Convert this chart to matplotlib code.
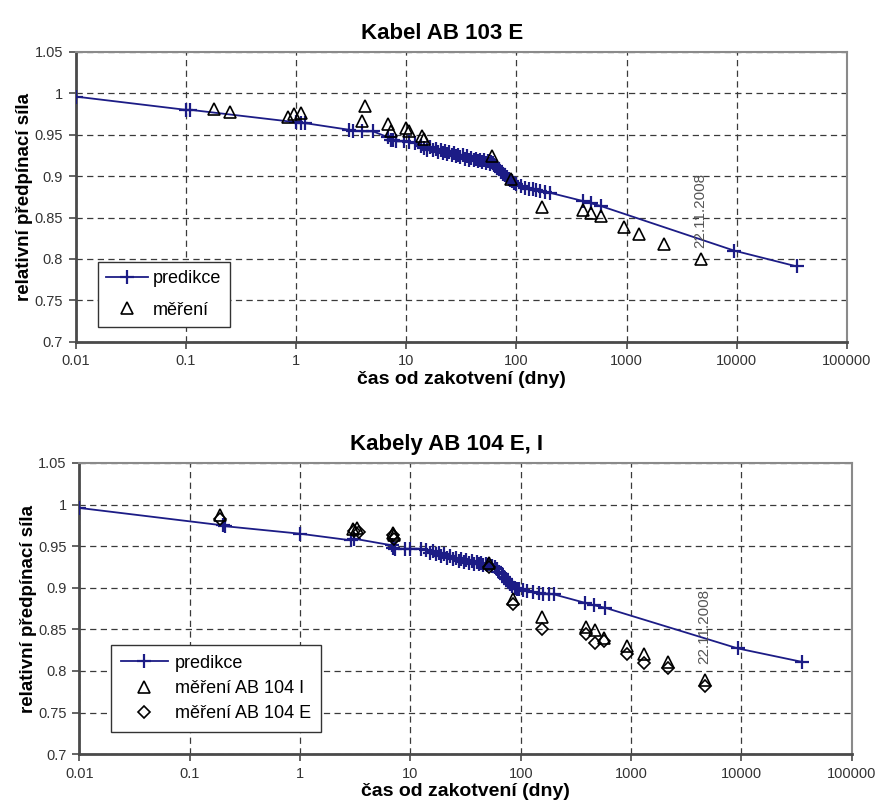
import matplotlib
matplotlib.use('Agg')
import matplotlib.pyplot as plt
from matplotlib.ticker import FixedLocator, FuncFormatter, NullLocator

plt.rcParams['font.family'] = ['Liberation Sans', 'DejaVu Sans']

# Kabel AB 103 E
pred_103_t = [0.01, 0.1, 0.11, 1.0, 1.1, 1.2, 3.0, 3.3, 4.0, 5.0, 6.8, 7.2, 7.6, 8.0,
              9.5, 10.5, 12, 13.5, 14.5, 15.5, 16.5, 17.5, 18.5, 19.5, 20.5, 21.5,
              22.5, 23.5, 24.5, 26, 27, 28, 29.5, 31, 32.5, 34, 35.5, 37, 39, 41, 43,
              45, 47, 49, 51, 53, 55, 57, 59, 61, 63, 65, 67, 70, 73, 76, 79, 82, 85,
              88, 91, 95, 100, 110, 120, 130, 140, 150, 165, 180, 200, 400, 480, 580,
              9500, 35000]
pred_103_f = [0.996, 0.980, 0.980, 0.965, 0.964, 0.964, 0.956, 0.955, 0.954, 0.954,
              0.947, 0.944, 0.943, 0.942, 0.942, 0.941, 0.940, 0.936, 0.934, 0.932,
              0.935, 0.931, 0.933, 0.929, 0.932, 0.928, 0.930, 0.927, 0.929, 0.925,
              0.928, 0.924, 0.926, 0.923, 0.925, 0.921, 0.924, 0.920, 0.922, 0.919,
              0.921, 0.918, 0.920, 0.917, 0.919, 0.916, 0.918, 0.915, 0.917, 0.916,
              0.914, 0.912, 0.910, 0.908, 0.905, 0.903, 0.901, 0.899, 0.897, 0.895,
              0.894, 0.892, 0.890, 0.888, 0.886, 0.885, 0.884, 0.883, 0.882, 0.881,
              0.880, 0.870, 0.867, 0.864, 0.810, 0.791]
meas_103_t = [0.18, 0.25, 0.85, 0.95, 1.1, 4.0, 4.2, 6.8, 7.3, 10, 10.5, 14, 14.5,
              60, 90, 170, 400, 480, 580, 950, 1300, 2200, 4700]
meas_103_f = [0.981, 0.977, 0.971, 0.975, 0.976, 0.966, 0.985, 0.963, 0.955, 0.958,
              0.955, 0.948, 0.945, 0.924, 0.897, 0.863, 0.859, 0.855, 0.852, 0.839,
              0.830, 0.818, 0.800]

# Kabely AB 104 E, I
pred_104_t = [0.01, 0.2, 0.21, 1.0, 2.9, 3.1, 6.8, 7.0, 7.2, 9.0, 10.0, 12.5, 14, 15,
              16, 17, 18, 19, 20, 21.5, 23, 24.5, 26, 27.5, 29, 30.5, 32, 34, 36, 38,
              40, 42, 44, 46, 48, 50, 52, 55, 58, 61, 64, 67, 70, 73, 76, 80, 84, 88,
              92, 96, 105, 115, 130, 145, 160, 180, 200, 380, 460, 580, 9300, 35000]
pred_104_f = [0.996, 0.975, 0.974, 0.965, 0.957, 0.959, 0.951, 0.948, 0.947, 0.947,
              0.947, 0.947, 0.945, 0.942, 0.944, 0.940, 0.942, 0.938, 0.940, 0.936,
              0.938, 0.934, 0.936, 0.932, 0.934, 0.931, 0.933, 0.930, 0.932, 0.929,
              0.931, 0.928, 0.930, 0.927, 0.929, 0.927, 0.928, 0.926, 0.925, 0.922,
              0.919, 0.916, 0.913, 0.910, 0.907, 0.904, 0.902, 0.900, 0.899, 0.898,
              0.897, 0.896, 0.895, 0.894, 0.893, 0.893, 0.892, 0.882, 0.879, 0.876,
              0.827, 0.811]
meas_104i_t = [0.19, 3.0, 3.3, 6.9, 7.1, 52, 85, 157, 390, 470, 570, 920, 1300, 2150, 4650]
meas_104i_f = [0.988, 0.971, 0.972, 0.966, 0.963, 0.930, 0.887, 0.865, 0.853, 0.849,
               0.840, 0.830, 0.820, 0.811, 0.789]
meas_104e_t = [0.19, 3.1, 3.4, 6.9, 7.1, 52, 85, 157, 390, 470, 570, 920, 1300, 2150, 4650]
meas_104e_f = [0.983, 0.968, 0.967, 0.963, 0.959, 0.925, 0.880, 0.851, 0.845, 0.834,
               0.836, 0.820, 0.810, 0.803, 0.782]

x_ticks = [0.01, 0.1, 1, 10, 100, 1000, 10000, 100000]
y_ticks = [0.7, 0.75, 0.8, 0.85, 0.9, 0.95, 1.0, 1.05]
date_label = '22.11.2008'

LINE_COLOR = '#1c1c86'


def style_axes(ax, title):
    ax.set_xscale('log')
    ax.set_xlim(0.01, 100000)
    ax.set_ylim(0.7, 1.05)
    ax.xaxis.set_major_locator(FixedLocator(x_ticks))
    ax.xaxis.set_minor_locator(NullLocator())
    ax.xaxis.set_major_formatter(FuncFormatter(lambda v, p: f'{v:g}'))
    ax.yaxis.set_major_locator(FixedLocator(y_ticks))
    ax.yaxis.set_major_formatter(FuncFormatter(lambda v, p: f'{v:g}'))
    ax.grid(True, color='#3a3a3a', linestyle=(0, (5, 3.5)), linewidth=0.9)
    ax.set_axisbelow(True)
    for side in ('top', 'right'):
        ax.spines[side].set_color('#8a8a8a')
        ax.spines[side].set_linewidth(1.5)
    for side in ('left', 'bottom'):
        ax.spines[side].set_color('#4a4a4a')
        ax.spines[side].set_linewidth(2.0)
    ax.tick_params(direction='out', length=5, width=1.2, color='#4a4a4a',
                   labelsize=10.5, labelcolor='#333333', pad=4)
    # title sits over the middle of the whole figure, not the plot area
    ax.set_title(title, fontsize=16, fontweight='bold', pad=9, x=0.475)
    ax.set_xlabel('čas od zakotvení (dny)', fontsize=14, fontweight='bold', labelpad=2)
    ax.set_ylabel('relativní předpínací síla', fontsize=13.5, fontweight='bold', labelpad=1)


fig = plt.figure(figsize=(8.8, 8.1), dpi=100)
ax1 = fig.add_axes([0.086, 0.578, 0.8765, 0.358])
ax2 = fig.add_axes([0.090, 0.069, 0.878, 0.3594])

legend_opts = dict(loc='lower left', fontsize=13, frameon=True, fancybox=False,
                   edgecolor='#333333', framealpha=1, borderaxespad=0)

# top chart
ax1.plot(pred_103_t, pred_103_f, color=LINE_COLOR, linewidth=1.3, marker='+',
         markersize=10, markeredgewidth=1.6, label='predikce', zorder=3)
ax1.plot(meas_103_t, meas_103_f, linestyle='none', marker='^', markersize=9,
         markerfacecolor='none', markeredgecolor='black', markeredgewidth=1.2,
         label='měření', zorder=4)
ax1.text(4700, 0.858, date_label, rotation=90, ha='center', va='center',
         fontsize=11, color='#555555')
style_axes(ax1, 'Kabel AB 103 E')
leg1 = ax1.legend(bbox_to_anchor=(0.029, 0.052), labelspacing=0.8, handlelength=2.3,
                  handletextpad=0.3, borderpad=0.45, **legend_opts)
leg1.get_frame().set_linewidth(1.0)

# bottom chart
ax2.plot(pred_104_t, pred_104_f, color=LINE_COLOR, linewidth=1.3, marker='+',
         markersize=10, markeredgewidth=1.6, label='predikce', zorder=3)
ax2.plot(meas_104i_t, meas_104i_f, linestyle='none', marker='^', markersize=9,
         markerfacecolor='none', markeredgecolor='black', markeredgewidth=1.2,
         label='měření AB 104 I', zorder=4)
ax2.plot(meas_104e_t, meas_104e_f, linestyle='none', marker='D', markersize=6,
         markerfacecolor='none', markeredgecolor='black', markeredgewidth=1.2,
         label='měření AB 104 E', zorder=4)
ax2.text(4600, 0.853, date_label, rotation=90, ha='center', va='center',
         fontsize=11, color='#555555')
style_axes(ax2, 'Kabely AB 104 E, I')
leg2 = ax2.legend(bbox_to_anchor=(0.041, 0.076), labelspacing=0.45, handlelength=2.6,
                  handletextpad=0.4, borderpad=0.55, **legend_opts)
leg2.get_frame().set_linewidth(1.0)

fig.savefig('out.png', dpi=100)
